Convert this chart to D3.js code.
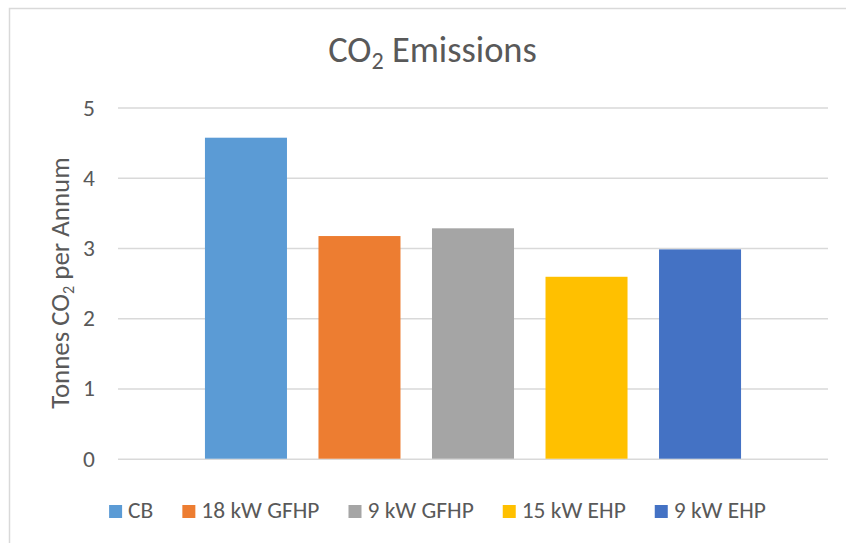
<!DOCTYPE html>
<html>
<head>
<meta charset="utf-8">
<script src="https://cdn.jsdelivr.net/npm/d3@7"></script>
<style>
  body { margin: 0; background: #fff; }
  #canvas { width: 846px; height: 543px; }
  text { font-family: Carlito, Calibri, Lato, sans-serif; fill: #595959; }
</style>
</head>
<body>
<div id="canvas" class="canvas"></div>
<script>
// data
var series = ['CB', '18 kW GFHP', '9 kW GFHP', '15 kW EHP', '9 kW EHP'];
var values = [4.57, 3.17, 3.28, 2.59, 2.98];
var colors = ['#5B9BD5', '#ED7D31', '#A5A5A5', '#FFC000', '#4472C4'];
var yTicks = [0, 1, 2, 3, 4, 5];

var W = 846, H = 543;
// plot area (margin convention, by hand)
var m = {t: 107.5, l: 118, r: 828, b: 458.7};

var svg = d3.select('.canvas')
    .append('svg')
    .attr('width', W)
    .attr('height', H);

// scale a text's font so its width matches what the screenshot shows
function fitWidth(sel, target, base) {
    sel.style('font-size', base + 'px');
    var w = sel.node().getComputedTextLength();
    var size = base * target / w;
    sel.style('font-size', size + 'px');
    return size;
}

// chart border, cut off on the right / bottom like the screenshot
svg.append('rect')
    .attr('x', 9.5).attr('y', 8.5)
    .attr('width', 860).attr('height', 560)
    .attr('fill', 'none')
    .attr('stroke', '#d9d9d9')
    .attr('stroke-width', 1.5);

var scaleY = d3.scaleLinear()
    .domain([0, 5])
    .range([m.b, m.t]);

var scaleX = d3.scaleBand()
    .domain(series)
    .range([m.l, m.r])
    .paddingInner(0.2775)
    .paddingOuter(0.766);

// legend first, to find the small font size (ticks use the same one)
var legend = svg.append('g').attr('class', 'legend');
var items = legend.selectAll('.item')
    .data(series)
    .enter()
    .append('g')
    .attr('class', 'item');
items.append('rect')
    .attr('y', 505)
    .attr('width', 13)
    .attr('height', 13)
    .attr('fill', function(d, i) { return colors[i]; });
var legText = items.append('text')
    .attr('x', 19)
    .attr('y', 518)
    .style('font-size', '18px')
    .text(function(d) { return d; });

var sumW = 0;
legText.each(function() { sumW += this.getComputedTextLength(); });
var smallSize = 18 * 446 / sumW;
legText.style('font-size', smallSize + 'px');

var xPos = 0, offsets = [];
items.each(function() {
    offsets.push(xPos);
    var tw = d3.select(this).select('text').node().getComputedTextLength();
    xPos += 19 + tw + 29;
});
var totalW = xPos - 29;
var startX = 437.5 - totalW / 2;
items.attr('transform', function(d, i) { return 'translate(' + (startX + offsets[i]) + ',0)'; });

// gridlines + tick labels
var axisY = d3.axisLeft(scaleY)
    .tickValues(yTicks)
    .tickSize(-(m.r - m.l))
    .tickPadding(23)
    .tickFormat(d3.format('d'));

var gy = svg.append('g')
    .attr('class', 'axis axis-y')
    .attr('transform', 'translate(' + m.l + ',0)')
    .call(axisY);
gy.select('.domain').remove();
gy.selectAll('.tick line')
    .attr('stroke', '#d9d9d9')
    .attr('stroke-width', 1.5);
gy.selectAll('.tick text')
    .style('font-size', smallSize + 'px')
    .style('font-family', 'Carlito, Calibri, Lato, sans-serif')
    .attr('fill', '#595959');

// bars
svg.selectAll('.bar')
    .data(series)
    .enter()
    .append('rect')
    .attr('class', 'bar')
    .attr('x', function(d) { return scaleX(d); })
    .attr('width', scaleX.bandwidth())
    .attr('y', function(d, i) { return scaleY(values[i]); })
    .attr('height', function(d, i) { return scaleY(0) - scaleY(values[i]); })
    .attr('fill', function(d, i) { return colors[i]; });

// title
var title = svg.append('text')
    .attr('x', 432.5)
    .attr('y', 62)
    .attr('text-anchor', 'middle');
title.append('tspan').text('CO');
var tSub = title.append('tspan').text('2').attr('class', 'sub');
title.append('tspan').text(' Emissions').attr('class', 'after');
var ts = fitWidth(title, 215, 28);
tSub.style('font-size', (ts * 0.66) + 'px').attr('dy', ts * 0.2);
title.select('.after').attr('dy', -ts * 0.2);

// y axis title
var yTitle = svg.append('text')
    .attr('transform', 'translate(69,' + ((m.t + m.b) / 2) + ') rotate(-90)')
    .attr('text-anchor', 'middle');
yTitle.append('tspan').text('Tonnes CO');
var ySub = yTitle.append('tspan').text('2');
var yAfter = yTitle.append('tspan').text(' per Annum');
var ys = fitWidth(yTitle, 257, 24);
ySub.style('font-size', (ys * 0.6) + 'px').attr('dy', ys * 0.18);
yAfter.attr('dy', -ys * 0.18);
</script>
</body>
</html>
